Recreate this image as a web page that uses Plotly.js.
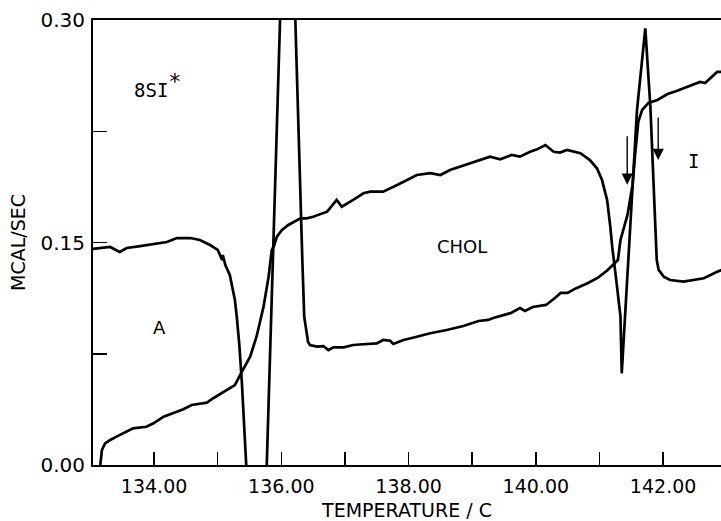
<!DOCTYPE html>
<html>
<head>
<meta charset="utf-8">
<script src="https://cdn.plot.ly/plotly-3.0.1.min.js"></script>
<style>html,body{margin:0;padding:0;background:#fff;}#chart{width:721px;height:521px;}</style>
</head>
<body>
<div id="chart"></div>
<script>
// Trace 1: starts near 0.146 (A phase), falls below zero, spikes above 0.30, then low baseline, rises to upper right
const trace1Temp = [133.03,133.15,133.31,133.46,133.57,133.78,133.98,134.20,134.36,134.57,134.72,134.88,135.00,135.07,135.08,135.12,135.19,135.27,135.30,135.34,135.38,135.41,135.45,135.60,135.72,135.77,135.87,135.98,136.10,136.22,136.33,136.36,136.42,136.45,136.56,136.66,136.74,136.82,136.98,137.13,137.29,137.50,137.60,137.71,137.76,137.92,138.13,138.34,138.60,138.86,139.10,139.25,139.33,139.48,139.61,139.75,139.83,139.95,140.16,140.30,140.39,140.50,140.61,140.82,140.97,141.13,141.24,141.29,141.33,141.44,141.48,141.52,141.56,141.61,141.67,141.77,141.91,142.07,142.20,142.30,142.38,142.58,142.66,142.74,142.85,142.92];
const trace1Q    = [0.1456,0.1463,0.1470,0.1436,0.1463,0.1476,0.1490,0.1503,0.1530,0.1530,0.1517,0.1483,0.1450,0.1382,0.1416,0.1348,0.1281,0.1112,0.0998,0.0809,0.0553,0.0270,-0.0013,-0.060,-0.030,-0.0013,0.1450,0.3000,0.4500,0.3000,0.1382,0.0998,0.0829,0.0809,0.0798,0.0802,0.0775,0.0793,0.0793,0.0809,0.0814,0.0820,0.0843,0.0838,0.0816,0.0843,0.0865,0.0888,0.0910,0.0937,0.0971,0.0978,0.0991,0.1011,0.1025,0.1058,0.1038,0.1065,0.1079,0.1126,0.1160,0.1160,0.1187,0.1227,0.1261,0.1315,0.1362,0.1382,0.1517,0.1686,0.1787,0.1888,0.2090,0.2313,0.2393,0.2441,0.2461,0.2501,0.2520,0.2535,0.2548,0.2582,0.2575,0.2609,0.2650,0.2650];

// Trace 2: starts at zero, slow rise, step at 136, high plateau, dip/peak pair near 141.5, low right tail
const trace2Temp = [133.15,133.18,133.23,133.31,133.41,133.57,133.67,133.88,133.99,134.15,134.30,134.46,134.59,134.72,134.83,134.93,135.06,135.19,135.27,135.38,135.51,135.61,135.72,135.80,135.85,135.88,135.93,136.01,136.11,136.30,136.40,136.50,136.72,136.87,136.95,137.13,137.29,137.40,137.60,137.82,138.13,138.34,138.50,138.65,138.97,139.13,139.28,139.44,139.62,139.75,139.91,140.02,140.15,140.28,140.38,140.49,140.70,140.85,140.96,141.04,141.12,141.17,141.20,141.27,141.33,141.35,141.46,141.59,141.72,141.80,141.90,141.93,142.01,142.11,142.32,142.64,142.85,142.92];
const trace2Q    = [-0.0020,0.0101,0.0146,0.0169,0.0191,0.0225,0.0247,0.0258,0.0281,0.0326,0.0349,0.0376,0.0405,0.0411,0.0420,0.0450,0.0483,0.0519,0.0539,0.0629,0.0730,0.0865,0.1067,0.1270,0.1450,0.1472,0.1539,0.1584,0.1618,0.1663,0.1663,0.1674,0.1708,0.1787,0.1741,0.1787,0.1832,0.1843,0.1843,0.1888,0.1955,0.1967,0.1955,0.1989,0.2034,0.2056,0.2079,0.2061,0.2090,0.2079,0.2112,0.2128,0.2157,0.2112,0.2106,0.2124,0.2102,0.2056,0.2000,0.1921,0.1787,0.1607,0.1472,0.1225,0.1000,0.0618,0.1450,0.2393,0.2944,0.2416,0.1382,0.1315,0.1270,0.1247,0.1236,0.1259,0.1303,0.1315];

const xTickVals = [134,135,136,137,138,139,140,141,142];
const xTickText = ['134.00','','136.00','','138.00','','140.00','','142.00'];
const yTickVals = [0,0.075,0.15,0.225,0.30];
const yTickText = ['0.00','','0.15','','0.30'];

const labelFont = {family:'DejaVu Sans, sans-serif', size:18, color:'#000'};

const data = [
  {x: trace1Temp, y: trace1Q, mode:'lines', line:{color:'#000', width:2.7}, hoverinfo:'skip', showlegend:false},
  {x: trace2Temp, y: trace2Q, mode:'lines', line:{color:'#000', width:2.7}, hoverinfo:'skip', showlegend:false}
];

const layout = {
  width:721, height:521,
  margin:{l:93, r:0, t:20, b:56},
  paper_bgcolor:'#fff', plot_bgcolor:'#fff',
  font:{family:'DejaVu Sans, sans-serif', color:'#000'},
  showlegend:false,
  xaxis:{
    range:[133.04,142.91], showgrid:false, zeroline:false,
    showline:true, linewidth:2, linecolor:'#000', mirror:true,
    ticks:'inside', ticklen:13, tickwidth:1.5, tickcolor:'#000',
    tickvals:xTickVals, ticktext:xTickText,
    tickfont:{family:'DejaVu Sans, sans-serif', size:19, color:'#000'},
    ticklabelstandoff:3,
    title:{text:'TEMPERATURE / C', font:{family:'DejaVu Sans, sans-serif', size:19, color:'#000'}, standoff:13}
  },
  yaxis:{
    range:[0,0.30], showgrid:false, zeroline:false,
    showline:true, linewidth:2, linecolor:'#000',
    ticks:'inside', ticklen:14, tickwidth:1.5, tickcolor:'#000',
    tickvals:yTickVals, ticktext:yTickText,
    tickfont:{family:'DejaVu Sans, sans-serif', size:20, color:'#000'},
    ticklabelstandoff:2,
    title:{text:'MCAL/SEC', font:{family:'DejaVu Sans, sans-serif', size:19, color:'#000'}, standoff:10}
  },
  annotations:[
    {x:133.65, y:0.256, xanchor:'left', yanchor:'middle', text:'8SI<sup><span style="font-size:22px">*</span></sup>', showarrow:false, font:{family:'DejaVu Sans Mono, monospace', size:19, color:'#000'}},
    {x:134.09, y:0.0924, text:'A', showarrow:false, font:labelFont},
    {x:138.84, y:0.1476, text:'CHOL', showarrow:false, font:labelFont},
    {x:142.47, y:0.205, text:'I', showarrow:false, font:{family:'DejaVu Sans Mono, monospace', size:19, color:'#000'}},
    {x:141.436, y:0.189, ax:0, ay:-50, text:'', showarrow:true, arrowhead:2, arrowsize:1.6, arrowwidth:1.4, arrowcolor:'#000'},
    {x:141.923, y:0.2056, ax:0, ay:-44, text:'', showarrow:true, arrowhead:2, arrowsize:1.6, arrowwidth:1.4, arrowcolor:'#000'}
  ]
};

Plotly.newPlot('chart', data, layout, {staticPlot:true, displayModeBar:false});
</script>
</body>
</html>
